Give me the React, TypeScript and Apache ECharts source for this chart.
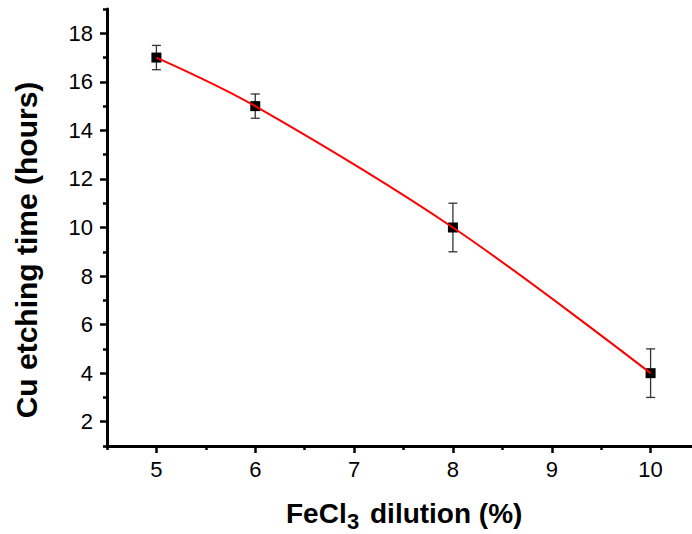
import React, { useEffect, useRef } from "react";
import * as echarts from "echarts";

const dilution = [5, 6, 8, 10];
const etchTime = [17, 15, 10, 4];
const etchErr = [0.5, 0.5, 1, 1];

const xMajorTicks = [5, 6, 7, 8, 9, 10];
const xMinorTicks = [4.5, 5.5, 6.5, 7.5, 8.5, 9.5];
const yMajorTicks = [2, 4, 6, 8, 10, 12, 14, 16, 18];
const yMinorTicks = [1, 3, 5, 7, 9, 11, 13, 15, 17, 19];

const FONT = '"Liberation Sans", Arial, Helvetica, sans-serif';

export default function App() {
  const ref = useRef<HTMLDivElement>(null);

  useEffect(() => {
    if (!ref.current) return;
    const chart = echarts.init(ref.current, null, { renderer: "svg" });

    const errData = dilution.map((x, i) => [x, etchTime[i], etchErr[i]]);
    const ptData = dilution.map((x, i) => [x, etchTime[i]]);

    const baseX = {
      type: "value",
      gridIndex: 0,
      position: "bottom",
      min: 4.5,
      max: 10.5,
      splitLine: { show: false },
    };
    const baseY = {
      type: "value",
      gridIndex: 0,
      position: "left",
      min: 1,
      max: 19,
      splitLine: { show: false },
    };

    const option: any = {
      animation: false,
      backgroundColor: "#ffffff",
      grid: {
        left: 107,
        top: 9,
        width: 593,
        height: 437,
        containLabel: false,
        outerBoundsMode: "none",
      },
      xAxis: [
        {
          ...baseX,
          axisLine: { show: true, onZero: false, lineStyle: { color: "#000", width: 3 } },
          axisTick: {
            show: true,
            customValues: xMajorTicks,
            length: 7,
            lineStyle: { color: "#000", width: 2.5 },
          },
          axisLabel: {
            show: true,
            customValues: xMajorTicks,
            margin: 12,
            fontSize: 22,
            fontFamily: FONT,
            color: "#000",
          },
        },
        {
          ...baseX,
          axisLine: { show: false, onZero: false },
          axisTick: {
            show: true,
            customValues: xMinorTicks,
            length: 4,
            lineStyle: { color: "#000", width: 2.5 },
          },
          axisLabel: { show: false },
        },
      ],
      yAxis: [
        {
          ...baseY,
          axisLine: { show: true, onZero: false, lineStyle: { color: "#000", width: 3 } },
          axisTick: {
            show: true,
            customValues: yMajorTicks,
            length: 7,
            lineStyle: { color: "#000", width: 2.5 },
          },
          axisLabel: {
            show: true,
            customValues: yMajorTicks,
            margin: 14,
            fontSize: 22,
            fontFamily: FONT,
            color: "#000",
          },
        },
        {
          ...baseY,
          axisLine: { show: false, onZero: false },
          axisTick: {
            show: true,
            customValues: yMinorTicks,
            length: 4,
            lineStyle: { color: "#000", width: 2.5 },
          },
          axisLabel: { show: false },
        },
      ],
      series: [
        {
          type: "custom",
          xAxisIndex: 0,
          yAxisIndex: 0,
          z: 2,
          data: errData,
          encode: { x: 0, y: 1 },
          renderItem: (params: any, api: any) => {
            const x = api.value(0);
            const y = api.value(1);
            const e = api.value(2);
            const top = api.coord([x, y + e]);
            const bot = api.coord([x, y - e]);
            const half = 4.5;
            const st = { stroke: "#333333", lineWidth: 1.3 };
            return {
              type: "group",
              children: [
                { type: "line", shape: { x1: top[0], y1: top[1], x2: bot[0], y2: bot[1] }, style: st },
                { type: "line", shape: { x1: top[0] - half, y1: top[1], x2: top[0] + half, y2: top[1] }, style: st },
                { type: "line", shape: { x1: bot[0] - half, y1: bot[1], x2: bot[0] + half, y2: bot[1] }, style: st },
              ],
            };
          },
        },
        {
          type: "scatter",
          xAxisIndex: 0,
          yAxisIndex: 0,
          z: 3,
          symbol: "rect",
          symbolSize: 10,
          itemStyle: { color: "#000", opacity: 1 },
          data: ptData,
        },
        {
          type: "line",
          xAxisIndex: 0,
          yAxisIndex: 0,
          z: 4,
          smooth: 0.35,
          showSymbol: false,
          symbol: "none",
          lineStyle: { color: "#ff0000", width: 2 },
          data: ptData,
        },
      ],
      graphic: [
        {
          type: "text",
          x: 26.5,
          y: 250,
          rotation: Math.PI / 2,
          style: {
            text: "Cu etching time (hours)",
            font: `bold 30px ${FONT}`,
            fill: "#000",
            align: "center",
            verticalAlign: "middle",
            textAlign: "center",
            textVerticalAlign: "middle",
          },
        },
        {
          type: "text",
          x: 286,
          y: 513,
          style: {
            text: "FeCl",
            font: `bold 28px ${FONT}`,
            fill: "#000",
            align: "left",
            verticalAlign: "middle",
            textAlign: "left",
            textVerticalAlign: "middle",
          },
        },
        {
          type: "text",
          x: 347,
          y: 521,
          style: {
            text: "3",
            font: `bold 22px ${FONT}`,
            fill: "#000",
            align: "left",
            verticalAlign: "middle",
            textAlign: "left",
            textVerticalAlign: "middle",
          },
        },
        {
          type: "text",
          x: 370,
          y: 513,
          style: {
            text: "dilution (%)",
            font: `bold 28px ${FONT}`,
            fill: "#000",
            align: "left",
            verticalAlign: "middle",
            textAlign: "left",
            textVerticalAlign: "middle",
          },
        },
      ],
    };

    chart.setOption(option);
    return () => chart.dispose();
  }, []);

  return (
    <div
      ref={ref}
      style={{ position: "absolute", left: 0, top: 0, width: 692, height: 534, background: "#fff" }}
    />
  );
}
